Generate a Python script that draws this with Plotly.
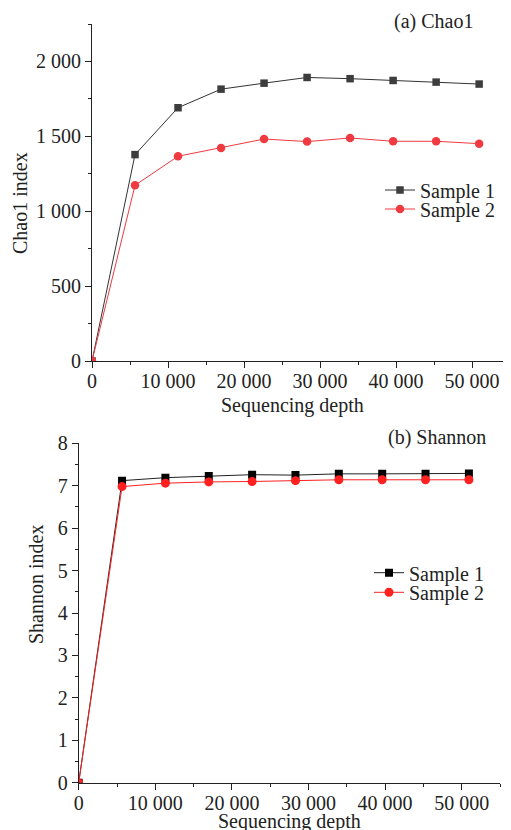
import plotly.graph_objects as go

# ---- data ----
depth = [0, 5660, 11320, 16980, 22640, 28300, 33960, 39620, 45280, 50940]
chao1_s1 = [0, 1378, 1691, 1815, 1855, 1893, 1885, 1873, 1862, 1849]
chao1_s2 = [0, 1173, 1367, 1422, 1482, 1465, 1489, 1467, 1467, 1451]
shannon_s1 = [0, 7.12, 7.19, 7.23, 7.26, 7.25, 7.28, 7.28, 7.28, 7.29]
shannon_s2 = [0, 6.98, 7.06, 7.09, 7.10, 7.12, 7.14, 7.14, 7.14, 7.14]
series_names = ["Sample 1", "Sample 2"]
x_title = "Sequencing depth"
y_titles = ["Chao1 index", "Shannon index"]
panel_labels = ["(a) Chao1", "(b) Shannon"]
x_ticks = [0, 10000, 20000, 30000, 40000, 50000]
chao_ticks = [0, 500, 1000, 1500, 2000]
shannon_ticks = [0, 1, 2, 3, 4, 5, 6, 7, 8]

OFF = 8                      # page body margin
W, H = 511 - OFF, 830 - OFF  # figure size
FONT = "Liberation Serif"
FS = 20
TXT = "#222222"

def px_x(p):   # page pixel -> paper fraction
    return (p - OFF) / W

def px_y(p):
    return 1 - (p - OFF) / H

fig = go.Figure()

top_cols = ["#3d3d3d", "#ee3a40"]
bot_cols = ["#000000", "#ff2020"]

fig.add_trace(go.Scatter(x=depth, y=chao1_s1, name=series_names[0], mode="lines+markers",
                         line=dict(color="#333333", width=1),
                         marker=dict(symbol="square", size=7.5, color=top_cols[0]),
                         xaxis="x", yaxis="y", legend="legend"))
fig.add_trace(go.Scatter(x=depth, y=chao1_s2, name=series_names[1], mode="lines+markers",
                         line=dict(color=top_cols[1], width=1),
                         marker=dict(symbol="circle", size=8.5, color=top_cols[1]),
                         xaxis="x", yaxis="y", legend="legend2"))
fig.add_trace(go.Scatter(x=depth, y=shannon_s1, name=series_names[0], mode="lines+markers",
                         line=dict(color="#222222", width=1),
                         marker=dict(symbol="square", size=8, color=bot_cols[0]),
                         xaxis="x2", yaxis="y2", legend="legend3"))
fig.add_trace(go.Scatter(x=depth, y=shannon_s2, name=series_names[1], mode="lines+markers",
                         line=dict(color=bot_cols[1], width=1),
                         marker=dict(symbol="circle", size=9, color=bot_cols[1]),
                         xaxis="x2", yaxis="y2", legend="legend4"))

axis_common = dict(showline=True, linecolor=TXT, linewidth=1, ticks="outside",
                   ticklen=6, tickcolor=TXT, showgrid=False, zeroline=False,
                   automargin=False, tickfont=dict(family=FONT, size=FS, color=TXT))
minor_common = dict(ticks="outside", ticklen=3, tickcolor=TXT, showgrid=False)

def leg(x, y):
    return dict(x=px_x(x), y=px_y(y), xanchor="left", yanchor="middle",
                bgcolor="rgba(0,0,0,0)", font=dict(family=FONT, size=FS, color=TXT),
                tracegroupgap=0, itemwidth=30)

fig.update_layout(
    width=W, height=H, margin=dict(l=0, r=0, t=0, b=0),
    paper_bgcolor="white", plot_bgcolor="white", template="none",
    separators=". ",
    font=dict(family=FONT, size=FS, color=TXT),
    xaxis=dict(domain=[px_x(92), px_x(510)], anchor="y", range=[0, 55000],
               tickvals=x_ticks, tickformat=",d", minor=dict(dtick=5000, **minor_common),
               ticklabelstandoff=-4, **axis_common),
    yaxis=dict(domain=[px_y(361), px_y(24)], anchor="x", range=[0, 2250],
               tickvals=chao_ticks, tickformat=",d", minor=dict(dtick=250, **minor_common),
               **axis_common),
    xaxis2=dict(domain=[px_x(78.7), px_x(500)], anchor="y2", range=[0, 55000],
                tickvals=x_ticks, tickformat=",d", minor=dict(dtick=5000, **minor_common),
                ticklabelstandoff=-4, **axis_common),
    yaxis2=dict(domain=[px_y(782.7), px_y(443.3)], anchor="x2", range=[0, 8],
                tickvals=shannon_ticks, minor=dict(dtick=0.5, **minor_common),
                **axis_common),
    legend=leg(380, 190),
    legend2=leg(380, 209),
    legend3=leg(369, 572.7),
    legend4=leg(369, 592.3),
    showlegend=True,
)

annos = [
    dict(text=panel_labels[0], x=px_x(475), y=px_y(22), xanchor="right", yanchor="middle"),
    dict(text=panel_labels[1], x=px_x(488), y=px_y(437), xanchor="right", yanchor="middle"),
    dict(text=y_titles[0], x=px_x(20), y=px_y(203), textangle=-90, xanchor="center", yanchor="middle"),
    dict(text=y_titles[1], x=px_x(36), y=px_y(585), textangle=-90, xanchor="center", yanchor="middle"),
    dict(text=x_title, x=px_x(292), y=px_y(405), xanchor="center", yanchor="middle"),
    dict(text=x_title, x=px_x(289), y=px_y(821), xanchor="center", yanchor="middle"),
]
for a in annos:
    fig.add_annotation(xref="paper", yref="paper", showarrow=False,
                       font=dict(family=FONT, size=FS, color=TXT), **a)

fig.write_html("out.html")
